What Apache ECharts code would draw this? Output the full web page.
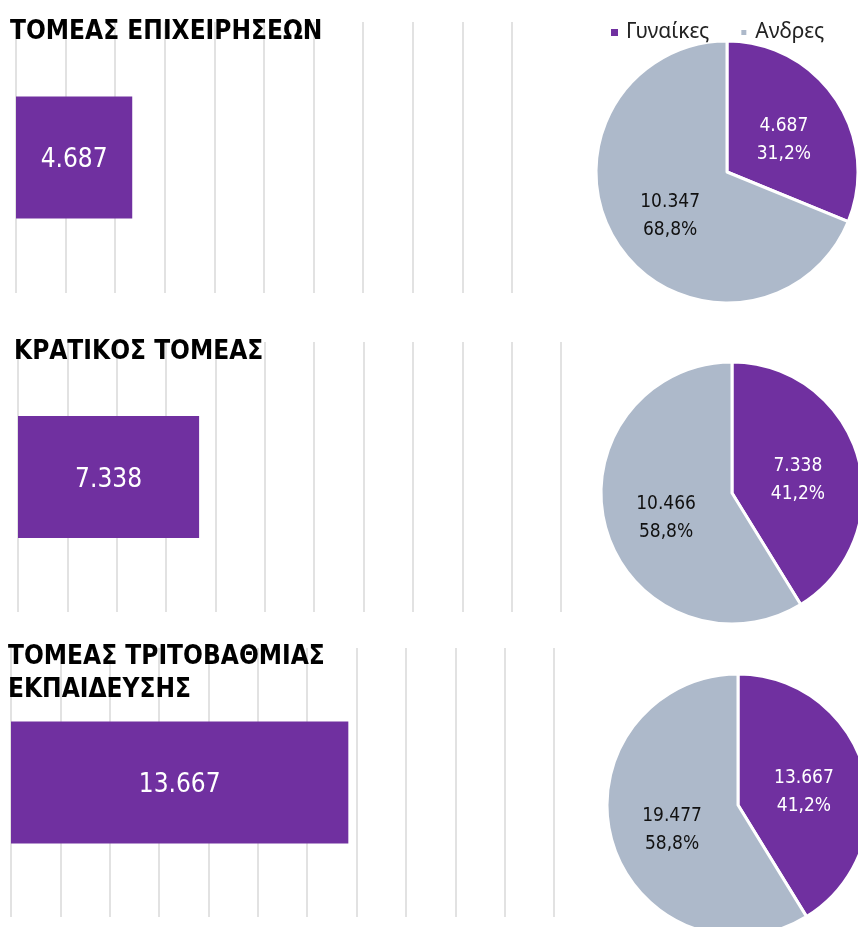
<!DOCTYPE html>
<html>
<head>
<meta charset="utf-8">
<script src="https://cdn.jsdelivr.net/npm/echarts@6/dist/echarts.min.js"></script>
<style>
  html, body { margin: 0; padding: 0; background: #fff; }
  #chart { width: 858px; height: 927px; }
</style>
</head>
<body>
<div id="chart"></div>
<script>
// data
const sectors = ['ΤΟΜΕΑΣ ΕΠΙΧΕΙΡΗΣΕΩΝ', 'ΚΡΑΤΙΚΟΣ ΤΟΜΕΑΣ', 'ΤΟΜΕΑΣ ΤΡΙΤΟΒΑΘΜΙΑΣ\nΕΚΠΑΙΔΕΥΣΗΣ']
const genders = ['Γυναίκες', 'Ανδρες']
const women = [4687, 7338, 13667]
const men = [10347, 10466, 19477]
const axisMax = [20000, 22000, 22000]
const axisStep = 2000

// layout of the three panels
const panels = [
  { grid: { left: 16, top: 22, width: 496, height: 271 }, title: { left: 10, top: 16 }, pie: [727, 172] },
  { grid: { left: 18, top: 342, width: 543, height: 270 }, title: { left: 14, top: 336 }, pie: [732, 493] },
  { grid: { left: 11, top: 648, width: 543, height: 269 }, title: { left: 8, top: 641 }, pie: [738, 805] },
]

const PURPLE = '#7030A0'
const GREY = '#ADB9CA'
const NARROW = '"Liberation Sans Narrow", "DejaVu Sans Condensed", sans-serif'

const fmt = (v) => String(v).replace(/\B(?=(\d{3})+(?!\d))/g, '.')

const chart = echarts.init(document.getElementById('chart'))

const option = {
  animation: false,
  backgroundColor: '#fff',
  title: panels.map((p, i) => ({
    text: sectors[i],
    left: p.title.left,
    top: p.title.top,
    padding: 0,
    textStyle: { fontFamily: NARROW, fontWeight: 'bold', fontSize: 26, color: '#000', lineHeight: 33 },
  })),
  legend: {
    data: genders,
    left: 606,
    top: 17,
    icon: 'rect',
    itemWidth: 7,
    itemHeight: 7,
    itemGap: 30,
    textStyle: { fontFamily: '"Noto Sans", sans-serif', fontSize: 21, color: '#222', padding: [0, 0, 0, 3] },
  },
  grid: panels.map((p) => ({ ...p.grid })),
  xAxis: panels.map((p, i) => ({
    type: 'value',
    gridIndex: i,
    min: 0,
    max: axisMax[i],
    interval: axisStep,
    axisLabel: { show: false },
    axisLine: { show: false },
    axisTick: { show: false },
    splitLine: { show: true, lineStyle: { color: '#D9D9D9', width: 1.5 } },
  })),
  yAxis: panels.map((p, i) => ({
    type: 'category',
    gridIndex: i,
    data: [sectors[i]],
    show: false,
  })),
  series: [
    ...women.map((v, i) => ({
      name: genders[0],
      type: 'bar',
      xAxisIndex: i,
      yAxisIndex: i,
      data: [v],
      barWidth: 122,
      itemStyle: { color: PURPLE },
      label: {
        show: true,
        position: 'inside',
        offset: [0, 3],
        color: '#fff',
        fontFamily: NARROW,
        fontSize: 26,
        formatter: (p) => fmt(p.value),
      },
    })),
    ...women.map((w, i) => {
      const total = w + men[i]
      return {
        type: 'pie',
        center: panels[i].pie,
        radius: 131,
        startAngle: 90,
        clockwise: true,
        itemStyle: { borderColor: '#fff', borderWidth: 3 },
        label: {
          show: true,
          position: 'inside',
          offset: [0, 6],
          fontFamily: NARROW,
          fontSize: 19,
          lineHeight: 28,
          formatter: (p) => fmt(p.value) + '\n' + ((p.value / total) * 100).toFixed(1).replace('.', ',') + '%',
        },
        data: [
          { name: genders[0], value: w, itemStyle: { color: PURPLE }, label: { color: '#fff' } },
          { name: genders[1], value: men[i], itemStyle: { color: GREY }, label: { color: '#111' } },
        ],
      }
    }),
  ],
}

chart.setOption(option)
</script>
</body>
</html>
